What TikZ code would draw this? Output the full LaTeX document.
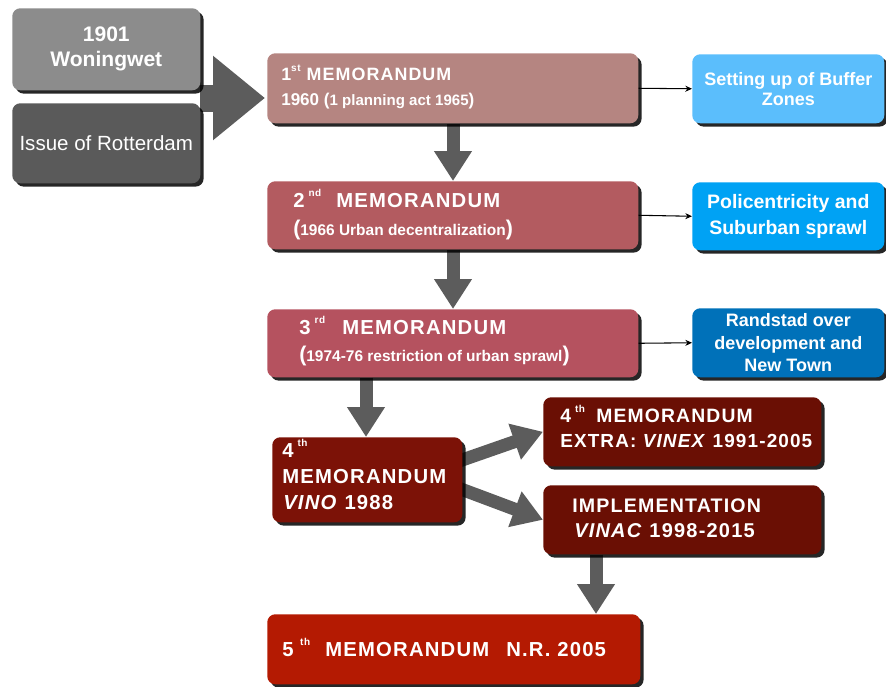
\documentclass[tikz,border=0pt]{standalone}
\usepackage{fontspec}
\setmainfont{Liberation Sans}
\newfontfamily\memfont[LetterSpace=6]{Liberation Sans}
\usetikzlibrary{arrows.meta,shadows,calc}
\pgfdeclarelayer{background}
\pgfsetlayers{background,main}
\definecolor{gA}{HTML}{8C8C8C}
\definecolor{gB}{HTML}{5A5A5A}
\definecolor{arr}{HTML}{5C5C5C}
\definecolor{mA}{HTML}{B58581}
\definecolor{mB}{HTML}{B35B60}
\definecolor{mC}{HTML}{B5525F}
\definecolor{bA}{HTML}{5BBEFC}
\definecolor{bB}{HTML}{00A2F4}
\definecolor{bC}{HTML}{0071B9}
\definecolor{mD}{HTML}{7C1207}
\definecolor{mE}{HTML}{6A0F04}
\definecolor{mF}{HTML}{B41A02}
\newcommand\supx[1]{\raisebox{0.5em}{\fontsize{7.5}{8}\selectfont #1}}
\newcommand\bigp[1]{{\fontsize{16}{16}\selectfont #1}}
\begin{document}
\begin{tikzpicture}[x=0.75pt,y=-0.75pt,
  box/.style={rounded corners=6pt, inner sep=0pt, anchor=north west,
    drop shadow={shadow xshift=2.5pt, shadow yshift=-2.5pt, opacity=0.85, fill=black}},
  mt/.style={text=white, inner sep=0pt, anchor=base west, font=\memfont\bfseries\fontsize{15.2}{18}\selectfont},
  st/.style={text=white, inner sep=0pt, anchor=base west, font=\bfseries\fontsize{11.6}{14}\selectfont},
  ctext/.style={text=white, align=center},
  fat/.style={draw=arr, line width=9.75pt, -{Triangle[width=27pt,length=22.5pt]}},
  thinarr/.style={draw=black, line width=0.8pt, -{Stealth[length=5pt,width=4.5pt]}}]
\useasboundingbox (0,0) rectangle (886,686);

% left gray boxes
\node[box, fill=gA, minimum width=188*0.75pt, minimum height=82*0.75pt] (w) at (12,8) {};
\node[ctext, font=\bfseries\fontsize{15.8}{18.75}\selectfont] (wt) at (w.center) {1901\\Woningwet};
\node[box, fill=gB, minimum width=188*0.75pt, minimum height=80*0.75pt] (r) at (12,103) {};
\node[ctext, font=\fontsize{15.4}{18}\selectfont] (rt) at (r.center) {Issue of Rotterdam};

% memorandum boxes
\node[box, fill=mA, minimum width=371*0.75pt, minimum height=70*0.75pt] (m1) at (267,53) {};
\node[mt, font=\memfont\bfseries\fontsize{13.4}{16}\selectfont] (m1a) at (281,80) {1\supx{st} MEMORANDUM};
\node[mt, font=\bfseries\fontsize{12.8}{16}\selectfont] (m1b) at (281,105) {1960 ({\fontsize{11.3}{14}\selectfont 1 planning act 1965})};

\node[box, fill=mB, minimum width=371*0.75pt, minimum height=68*0.75pt] (m2) at (267,181) {};
\node[mt] (m2n) at (293,207) {2\hspace{3pt}\supx{nd}};
\node[mt] (m2a) at (336,207) {MEMORANDUM};
\node[st] (m2b) at (293,235) {\bigp{(}1966 Urban decentralization\bigp{)}};

\node[box, fill=mC, minimum width=371*0.75pt, minimum height=68*0.75pt] (m3) at (267,309) {};
\node[mt] (m3n) at (299,334) {3\hspace{3pt}\supx{rd}};
\node[mt] (m3a) at (342,334) {MEMORANDUM};
\node[st] (m3b) at (299,361) {\bigp{(}1974-76 restriction of urban sprawl\bigp{)}};

\node[box, fill=mD, minimum width=190*0.75pt, minimum height=85*0.75pt] (m4) at (272,437) {};
\node[mt] (m4n) at (282,457) {4\hspace{3pt}\supx{th}};
\node[mt] (m4a) at (282,483) {MEMORANDUM};
\node[mt] (m4b) at (283,509) {\textit{VINO} 1988};

\node[box, fill=mE, minimum width=278*0.75pt, minimum height=69*0.75pt] (ex) at (543,397) {};
\node[mt, font=\memfont\bfseries\fontsize{14.5}{18}\selectfont] (exn) at (560,422) {4\hspace{3pt}\supx{th}};
\node[mt, font=\memfont\bfseries\fontsize{14.5}{18}\selectfont] (exa) at (596,422) {MEMORANDUM};
\node[mt, font=\memfont\bfseries\fontsize{14.2}{18}\selectfont] (exb) at (560,447) {EXTRA: \textit{VINEX} 1991-2005};

\node[box, fill=mE, minimum width=278*0.75pt, minimum height=69*0.75pt] (im) at (543,485) {};
\node[mt, font=\memfont\bfseries\fontsize{14.7}{18}\selectfont] (ima) at (572,512) {IMPLEMENTATION};
\node[mt, font=\memfont\bfseries\fontsize{15}{18}\selectfont] (imb) at (574,537) {\textit{VINAC} 1998-2015};

\node[box, fill=mF, minimum width=373*0.75pt, minimum height=70*0.75pt] (m5) at (267,614) {};
\node[mt] (m5n) at (282,656) {5\hspace{5pt}\supx{th}};
\node[mt] (m5a) at (325,656) {MEMORANDUM};
\node[mt] (m5b) at (506,656) {N.R. 2005};

% blue boxes
\node[box, fill=bA, minimum width=192*0.75pt, minimum height=69*0.75pt] (b1) at (692,54) {};
\node[ctext, font=\bfseries\fontsize{13.5}{15}\selectfont] (b1t) at (b1.center) {Setting up of Buffer\\Zones};
\node[box, fill=bB, minimum width=192*0.75pt, minimum height=68*0.75pt] (b2) at (692,182) {};
\node[ctext, font=\bfseries\fontsize{14.6}{19.5}\selectfont] (b2t) at (b2.center) {Policentricity and\\Suburban sprawl};
\node[box, fill=bC, minimum width=192*0.75pt, minimum height=69*0.75pt] (b3) at (692,308) {};
\node[ctext, font=\bfseries\fontsize{13.5}{17}\selectfont] (b3t) at (b3.center) {Randstad over\\development and\\New Town};

% thin connectors
\draw[thinarr] (m1.east) -- (b1.west);
\draw[thinarr] (m2.east) -- (b2.west);
\draw[thinarr] (m3.east) -- (b3.west);

% fat arrows
\begin{pgfonlayer}{background}
\coordinate (bigtail) at (200,98);
\coordinate (bigtip) at (265,98);
\draw[draw=arr, line width=20.25pt, -{Triangle[width=60.75pt,length=39pt]}] (bigtail) -- (bigtip);
\draw[fat] (453,0 |- m1.south) -- (453,0 |- m2.north);
\draw[fat] (453,0 |- m2.south) -- (453,0 |- m3.north);
\draw[fat] (366,0 |- m3.south) -- (366,0 |- m4.north);
\draw[fat] (596,0 |- im.south) -- (596,0 |- m5.north);
\draw[fat] ($(m4.north east)!0.3!(m4.south east)+(-8,0)$) -- (ex.west);
\draw[fat] ($(m4.north east)!0.58!(m4.south east)+(-8,0)$) -- (im.west);
\end{pgfonlayer}
\end{tikzpicture}
\end{document}
